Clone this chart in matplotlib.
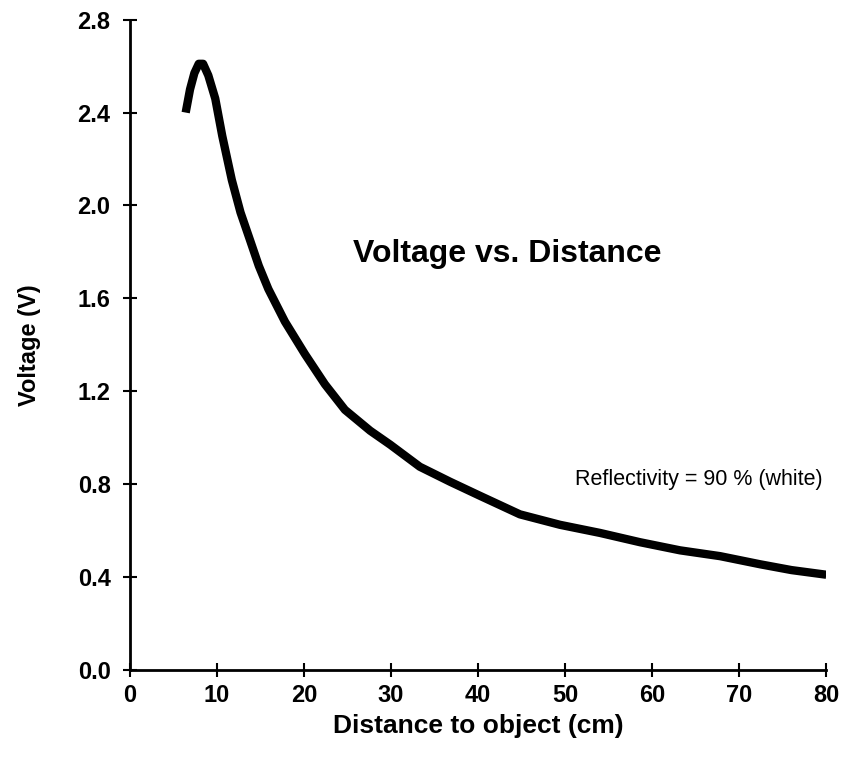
import matplotlib
matplotlib.use('Agg')
import matplotlib.pyplot as plt

# distance to object (cm) and measured voltage (V)
distance = [6.4, 6.9, 7.4, 7.9, 8.4, 9.0, 9.8, 10.6, 11.7, 12.7, 13.8, 14.8, 15.9,
            17.8, 20.1, 22.4, 24.7, 27.6, 29.9, 33.3, 36.8, 40.2, 44.8, 49.4,
            54.0, 58.6, 63.2, 67.8, 72.4, 76.0, 80.0]
voltage = [2.40, 2.50, 2.57, 2.61, 2.61, 2.56, 2.46, 2.30, 2.11, 1.97, 1.85, 1.74, 1.64,
           1.50, 1.36, 1.23, 1.12, 1.03, 0.97, 0.875, 0.81, 0.75, 0.67, 0.625,
           0.59, 0.55, 0.515, 0.49, 0.455, 0.43, 0.41]

xticks = [0, 10, 20, 30, 40, 50, 60, 70, 80]
yticks = [0.0, 0.4, 0.8, 1.2, 1.6, 2.0, 2.4, 2.8]

plt.rcParams['font.family'] = ['Liberation Sans', 'DejaVu Sans']

fig = plt.figure(figsize=(8.44, 7.57), dpi=100)
ax = fig.add_axes([0.154, 0.115, 0.825, 0.859])

ax.plot(distance, voltage, color='black', lw=6, solid_capstyle='butt',
        solid_joinstyle='round')

ax.set_xlim(0, 80)
ax.set_ylim(0, 2.8)
ax.set_xticks(xticks)
ax.set_yticks(yticks)
ax.set_yticklabels([f'{v:.1f}' for v in yticks])
ax.tick_params(direction='inout', length=10, width=1.5, labelsize=17)
ax.tick_params(axis='y', pad=9)
ax.tick_params(axis='x', pad=5)
for lab in ax.get_xticklabels() + ax.get_yticklabels():
    lab.set_fontweight('bold')

for s in ['top', 'right']:
    ax.spines[s].set_visible(False)
for s in ['left', 'bottom']:
    ax.spines[s].set_linewidth(2)

ax.set_xlabel('Distance to object (cm)', fontsize=19, fontweight='bold', labelpad=5)
ax.set_ylabel('Voltage (V)', fontsize=17, fontweight='bold', labelpad=26)

ax.text(43.3, 1.79, 'Voltage vs. Distance', fontsize=23, fontweight='bold',
        ha='center', va='center')
ax.text(65.3, 0.82, 'Reflectivity = 90 % (white)', fontsize=15.5,
        ha='center', va='center')

fig.savefig('out.png', dpi=100)
